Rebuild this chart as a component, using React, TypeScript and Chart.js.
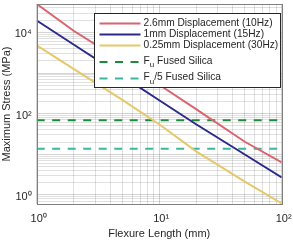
import React, { useEffect, useRef } from 'react';
import { Chart, registerables } from 'chart.js';

Chart.register(...registerables);

// ---- data ----
const flexureLengthMm = [1, 2, 5, 10, 20, 50, 100];
const stress26mm10Hz = [50000, 11000, 1930, 516, 130, 20.4, 6.3];
const stress1mm15Hz = [19600, 5050, 840, 214, 55, 9.9, 2.7];
const stress025mm30Hz = [4800, 1270, 218, 55, 11.8, 2.12, 0.62];
const fuFusedSilica = 69;
const fuOver5FusedSilica = 13.8;
const limitLengths = [1, 100];

const seriesLabels = [
  '2.6mm Displacement (10Hz)',
  '1mm Displacement (15Hz)',
  '0.25mm Displacement (30Hz)',
  'Fᵤ Fused Silica',
  'Fᵤ/5 Fused Silica',
];
const seriesColors = ['#d9646f', '#2b2a8c', '#e6c86a', '#1f8a3c', '#3fb5a0'];

const xTickValues = [1, 10, 100];
const xTickLabels = ['10⁰', '10¹', '10²'];
const yTickValues = [1, 100, 10000];
const yTickLabels = ['10⁰', '10²', '10⁴'];
const xRange = [1, 100];
const yRange = [0.62, 50000];

const FONT = '"Liberation Sans", Arial, Helvetica, sans-serif';
const TEXT = '#262626';
const DASH = [8, 7.5];

function logTicks(min: number, max: number) {
  const out: { value: number }[] = [];
  for (let e = Math.floor(Math.log10(min)); e <= Math.ceil(Math.log10(max)); e++) {
    for (let m = 1; m < 10; m++) {
      const v = Number((m * Math.pow(10, e)).toPrecision(6));
      if (v >= min - 1e-12 && v <= max * (1 + 1e-9)) out.push({ value: v });
    }
  }
  return out;
}

function isDecade(v: number) {
  const l = Math.log10(v);
  return Math.abs(l - Math.round(l)) < 1e-6;
}

function gridColor(ctx: any) {
  const v = ctx.tick && ctx.tick.value;
  if (!v) return 'rgba(0,0,0,0.1)';
  return isDecade(v) ? 'rgba(0,0,0,0.17)' : 'rgba(0,0,0,0.12)';
}

const frameAndLegend = {
  id: 'frameAndLegend',
  afterDatasetsDraw(chart: any) {
    const { ctx, chartArea } = chart;
    ctx.save();
    // axes box
    ctx.strokeStyle = '#808080';
    ctx.lineWidth = 1;
    ctx.setLineDash([]);
    ctx.strokeRect(
      Math.round(chartArea.left) + 0.5,
      Math.round(chartArea.top) + 0.5,
      Math.round(chartArea.right) - Math.round(chartArea.left),
      Math.round(chartArea.bottom) - Math.round(chartArea.top)
    );

    // legend box
    const l = Math.round(chartArea.left + 57.6) + 0.5;
    const t = Math.round(chartArea.top + 8.6) + 0.5;
    const r = Math.round(chartArea.right - 2) + 0.5;
    const b = t + 74;
    ctx.fillStyle = '#ffffff';
    ctx.fillRect(l, t, r - l, b - t);
    ctx.strokeStyle = '#262626';
    ctx.strokeRect(l, t, r - l, b - t);

    const rowOffsets = [10, 21, 32, 48.5, 65];
    const mainFont = `10.2px ${FONT}`;
    const subFont = `8px ${FONT}`;
    chart.data.datasets.forEach((ds: any, i: number) => {
      const y = t + rowOffsets[i];
      ctx.beginPath();
      ctx.strokeStyle = ds.borderColor;
      ctx.lineWidth = 2;
      ctx.setLineDash(ds.borderDash || []);
      ctx.moveTo(l + 5, y);
      ctx.lineTo(l + 46, y);
      ctx.stroke();
      ctx.setLineDash([]);

      ctx.fillStyle = TEXT;
      ctx.textBaseline = 'middle';
      ctx.textAlign = 'left';
      let x = l + 49;
      const parts = String(ds.label).split('ᵤ');
      ctx.font = mainFont;
      if (parts.length === 2) {
        ctx.fillText(parts[0], x, y - 1);
        x += ctx.measureText(parts[0]).width;
        ctx.font = subFont;
        ctx.fillText('u', x, y + 3);
        x += ctx.measureText('u').width;
        ctx.font = mainFont;
        ctx.fillText(parts[1], x, y - 1);
      } else {
        ctx.fillText(ds.label, x, y);
      }
    });
    ctx.restore();
  },
};

function toPoints(xs: number[], ys: number[]) {
  return xs.map((x, i) => ({ x, y: ys[i] }));
}

export default function App() {
  const canvasRef = useRef<HTMLCanvasElement | null>(null);

  useEffect(() => {
    if (!canvasRef.current) return;
    const lineDs = (label: string, color: string, data: any[], dash?: number[]) => ({
      label,
      data,
      borderColor: color,
      backgroundColor: color,
      borderWidth: 2,
      borderDash: dash || [],
      pointRadius: 0,
      tension: 0,
      fill: false,
    });
    const chart = new Chart(canvasRef.current, {
      type: 'line',
      data: {
        datasets: [
          lineDs(seriesLabels[0], seriesColors[0], toPoints(flexureLengthMm, stress26mm10Hz)),
          lineDs(seriesLabels[1], seriesColors[1], toPoints(flexureLengthMm, stress1mm15Hz)),
          lineDs(seriesLabels[2], seriesColors[2], toPoints(flexureLengthMm, stress025mm30Hz)),
          lineDs(seriesLabels[3], seriesColors[3], limitLengths.map((x) => ({ x, y: fuFusedSilica })), DASH),
          lineDs(seriesLabels[4], seriesColors[4], limitLengths.map((x) => ({ x, y: fuOver5FusedSilica })), DASH),
        ],
      },
      options: {
        animation: false,
        responsive: true,
        maintainAspectRatio: false,
        layout: { padding: { top: 4, right: 11.3, left: 0, bottom: 0 } },
        plugins: {
          legend: { display: false },
          tooltip: { enabled: false },
        },
        scales: {
          x: {
            type: 'logarithmic',
            min: xRange[0],
            max: xRange[1],
            afterBuildTicks: (s: any) => { s.ticks = logTicks(xRange[0], xRange[1]); },
            afterFit: (s: any) => { s.height = 39; s.paddingLeft = 0; s.paddingRight = 0; },
            ticks: {
              autoSkip: false,
              maxRotation: 0,
              padding: 8,
              labelOffset: 2,
              color: TEXT,
              font: { family: FONT, size: 11 },
              callback: (v: any) => {
                const i = xTickValues.findIndex((t) => Math.abs(t - Number(v)) < 1e-9 * t);
                return i >= 0 ? xTickLabels[i] : '';
              },
            },
            grid: { color: gridColor, drawTicks: false, lineWidth: 1 },
            border: { display: false },
            title: {
              display: true,
              text: 'Flexure Length (mm)',
              color: TEXT,
              font: { family: FONT, size: 11 },
              padding: { top: 0, bottom: 2.5 },
            },
          },
          y: {
            type: 'logarithmic',
            min: yRange[0],
            max: yRange[1],
            afterBuildTicks: (s: any) => { s.ticks = logTicks(yRange[0], yRange[1]); },
            afterFit: (s: any) => { s.width = 36.7; s.paddingTop = 0; s.paddingBottom = 0; },
            ticks: {
              autoSkip: false,
              padding: 5,
              labelOffset: 2,
              color: TEXT,
              font: { family: FONT, size: 11 },
              callback: (v: any) => {
                const i = yTickValues.findIndex((t) => Math.abs(t - Number(v)) < 1e-9 * t);
                return i >= 0 ? yTickLabels[i] : '';
              },
            },
            grid: { color: gridColor, drawTicks: false, lineWidth: 1 },
            border: { display: false },
            title: {
              display: true,
              text: 'Maximum Stress (MPa)',
              color: TEXT,
              font: { family: FONT, size: 11 },
              padding: { top: 0, bottom: 0 },
            },
          },
        },
      },
      plugins: [frameAndLegend],
    } as any);
    return () => chart.destroy();
  }, []);

  return (
    <div style={{ position: 'absolute', left: 0, top: 0, width: 293, height: 243 }}>
      <canvas ref={canvasRef} />
    </div>
  );
}
